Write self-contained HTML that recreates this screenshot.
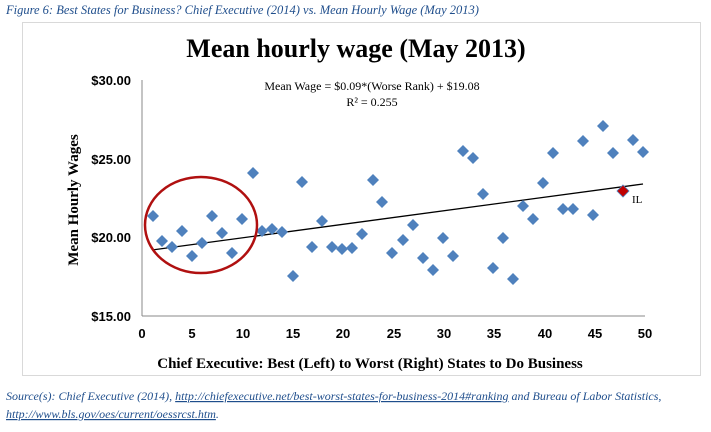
<!DOCTYPE html>
<html><head><style>
body{margin:0;background:#fff;width:711px;height:427px;overflow:hidden;font-family:"Liberation Serif",serif}
</style></head><body>
<svg width="711" height="427" xmlns="http://www.w3.org/2000/svg" font-family="Liberation Serif, serif">
<text x="6" y="14" font-size="12.5" font-style="italic" fill="#1f4e8c">Figure 6: Best States for Business? Chief Executive (2014) vs. Mean Hourly Wage (May 2013)</text>
<rect x="22.5" y="22.5" width="678" height="353" fill="#fff" stroke="#d9d9d9"/>
<text x="356" y="57" font-size="26" font-weight="bold" text-anchor="middle">Mean hourly wage (May 2013)</text>
<line x1="142" y1="80" x2="142" y2="316" stroke="#888"/>
<line x1="142" y1="316" x2="645" y2="316" stroke="#888"/>
<g font-size="13" font-weight="bold" text-anchor="end" font-family="Liberation Sans, sans-serif">
<text x="131" y="85">$30.00</text><text x="131" y="164">$25.00</text><text x="131" y="242">$20.00</text><text x="131" y="321">$15.00</text></g>
<g font-size="13" font-weight="bold" text-anchor="middle" font-family="Liberation Sans, sans-serif">
<text x="142" y="338">0</text><text x="192" y="338">5</text><text x="243" y="338">10</text><text x="293" y="338">15</text><text x="343" y="338">20</text><text x="394" y="338">25</text><text x="444" y="338">30</text><text x="494" y="338">35</text><text x="545" y="338">40</text><text x="595" y="338">45</text><text x="645" y="338">50</text></g>
<text x="370" y="368" font-size="15" font-weight="bold" text-anchor="middle">Chief Executive: Best (Left) to Worst (Right) States to Do Business</text>
<text transform="translate(78,200) rotate(-90)" font-size="15" font-weight="bold" text-anchor="middle">Mean Hourly Wages</text>
<text x="372" y="90" font-size="12" text-anchor="middle">Mean Wage = $0.09*(Worse Rank) + $19.08</text>
<text x="372" y="106" font-size="12" text-anchor="middle">R² = 0.255</text>
<line x1="152" y1="250" x2="643" y2="184" stroke="#000" stroke-width="1.3"/>
<g fill="#4f81bd">
<script>/* none */</script>
</g>
<g fill="#4f81bd" id="pts"></g>
<g fill="#4f81bd">
<path d="M153 210l6 6-6 6-6-6z"/><path d="M162 235l6 6-6 6-6-6z"/><path d="M172 241l6 6-6 6-6-6z"/><path d="M182 225l6 6-6 6-6-6z"/><path d="M192 250l6 6-6 6-6-6z"/><path d="M202 237l6 6-6 6-6-6z"/><path d="M212 210l6 6-6 6-6-6z"/><path d="M222 227l6 6-6 6-6-6z"/><path d="M232 247l6 6-6 6-6-6z"/><path d="M242 213l6 6-6 6-6-6z"/><path d="M253 167l6 6-6 6-6-6z"/><path d="M262 225l6 6-6 6-6-6z"/><path d="M272 223l6 6-6 6-6-6z"/><path d="M282 226l6 6-6 6-6-6z"/><path d="M293 270l6 6-6 6-6-6z"/><path d="M302 176l6 6-6 6-6-6z"/><path d="M312 241l6 6-6 6-6-6z"/><path d="M322 215l6 6-6 6-6-6z"/><path d="M332 241l6 6-6 6-6-6z"/><path d="M342 243l6 6-6 6-6-6z"/><path d="M352 242l6 6-6 6-6-6z"/><path d="M362 228l6 6-6 6-6-6z"/><path d="M373 174l6 6-6 6-6-6z"/><path d="M382 196l6 6-6 6-6-6z"/><path d="M392 247l6 6-6 6-6-6z"/><path d="M403 234l6 6-6 6-6-6z"/><path d="M413 219l6 6-6 6-6-6z"/><path d="M423 252l6 6-6 6-6-6z"/><path d="M433 264l6 6-6 6-6-6z"/><path d="M443 232l6 6-6 6-6-6z"/><path d="M453 250l6 6-6 6-6-6z"/><path d="M463 145l6 6-6 6-6-6z"/><path d="M473 152l6 6-6 6-6-6z"/><path d="M483 188l6 6-6 6-6-6z"/><path d="M493 262l6 6-6 6-6-6z"/><path d="M503 232l6 6-6 6-6-6z"/><path d="M513 273l6 6-6 6-6-6z"/><path d="M523 200l6 6-6 6-6-6z"/><path d="M533 213l6 6-6 6-6-6z"/><path d="M543 177l6 6-6 6-6-6z"/><path d="M553 147l6 6-6 6-6-6z"/><path d="M563 203l6 6-6 6-6-6z"/><path d="M573 203l6 6-6 6-6-6z"/><path d="M583 135l6 6-6 6-6-6z"/><path d="M593 209l6 6-6 6-6-6z"/><path d="M603 120l6 6-6 6-6-6z"/><path d="M613 147l6 6-6 6-6-6z"/><path d="M633 134l6 6-6 6-6-6z"/><path d="M643 146l6 6-6 6-6-6z"/>
</g>
<path d="M623 185l6 6-6 6-6-6z" fill="#c00000" stroke="#4f81bd" stroke-width="0.8"/>
<text x="632" y="203" font-size="11">IL</text>
<ellipse cx="201" cy="225" rx="56" ry="48" fill="none" stroke="#b01010" stroke-width="2.5"/>
<text x="6" y="400" font-size="12" font-style="italic" fill="#1f4e8c">Source(s): Chief Executive (2014), <tspan text-decoration="underline">http://chiefexecutive.net/best-worst-states-for-business-2014#ranking</tspan> and Bureau of Labor Statistics,</text>
<text x="6" y="418" font-size="12" font-style="italic" fill="#1f4e8c"><tspan text-decoration="underline">http://www.bls.gov/oes/current/oessrcst.htm</tspan>.</text>
</svg>
</body></html>
